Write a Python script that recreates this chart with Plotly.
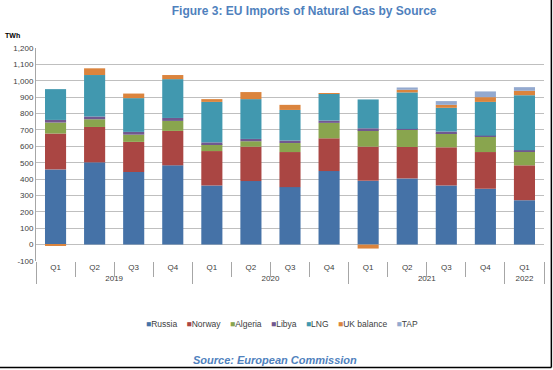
import plotly.graph_objects as go

years = ["2019"] * 4 + ["2020"] * 4 + ["2021"] * 4 + ["2022"]
quarters = ["Q1", "Q2", "Q3", "Q4", "Q1", "Q2", "Q3", "Q4", "Q1", "Q2", "Q3", "Q4", "Q1"]

russia = [459, 502, 443, 484, 361, 388, 351, 449, 390, 404, 361, 341, 271]
norway = [219, 216, 184, 210, 210, 210, 214, 200, 208, 192, 233, 224, 213]
algeria = [67, 47, 44, 61, 41, 33, 55, 94, 100, 104, 86, 94, 87]
libya = [16, 17, 17, 18, 12, 14, 15, 14, 12, 6, 10, 6, 5]
lng = [188, 253, 206, 237, 247, 243, 187, 163, 176, 223, 145, 206, 336]
uk_balance = [-5, 41, 28, 25, 17, 43, 31, 3, -24, 16, 18, 29, 27]
tap = [0, 0, 0, 0, 0, 0, 0, 0, 0, 14, 23, 35, 22]

series_names = ["Russia", "Norway", "Algeria", "Libya", "LNG", "UK balance", "TAP"]
series_values = [russia, norway, algeria, libya, lng, uk_balance, tap]
series_colors = ["#4572A7", "#AA4643", "#89A54E", "#71588F", "#4198AF", "#DB843D", "#93A9CF"]

tick_vals = list(range(-100, 1300, 100))
tick_text = [f"{v:,}" for v in tick_vals]

fig = go.Figure()
for name, vals, col in zip(series_names, series_values, series_colors):
    fig.add_trace(go.Bar(
        x=[years, quarters], y=vals, name=name, showlegend=False,
        marker=dict(color=col, line=dict(width=0)),
    ))

font_fam = "Liberation Sans, Arial, sans-serif"
fig.update_layout(
    barmode="relative",
    bargap=0.46,
    width=553, height=370,
    margin=dict(l=36, r=9, t=48, b=109),
    paper_bgcolor="white", plot_bgcolor="white",
    font=dict(family=font_fam, size=8, color="#404040"),
    showlegend=False,
    title=dict(text="<b>Figure 3: EU Imports of Natural Gas by Source</b>",
               x=0.55, xanchor="center", y=0.972, yanchor="middle",
               font=dict(family=font_fam, size=12, color="#4F81BD"), automargin=False),
)
fig.update_yaxes(
    range=[-100, 1200], tickvals=tick_vals, ticktext=tick_text,
    showgrid=True, gridcolor="#BFBFBF", gridwidth=1,
    zeroline=True, zerolinecolor="#BFBFBF", zerolinewidth=1,
    showline=True, linecolor="#A6A6A6", linewidth=1,
    ticks="", tickfont=dict(size=8, color="#404040"), automargin=False,
)
fig.update_xaxes(
    type="multicategory",
    showline=False,
    ticks="outside", tickson="boundaries", ticklen=15, tickcolor="#A6A6A6",
    showdividers=True, dividercolor="#A6A6A6", dividerwidth=1,
    tickfont=dict(size=8, color="#404040"),
    showgrid=False, automargin=False,
)

# legend drawn as coloured squares + names
legend_html = "&nbsp;&nbsp;&nbsp;&nbsp;".join(
    f"<span style='color:{c}'>■</span>{n}" for n, c in zip(series_names, series_colors)
)
fig.add_annotation(text=legend_html, xref="paper", yref="paper", x=0.485, y=-0.297,
                   xanchor="center", yanchor="middle", showarrow=False,
                   font=dict(size=8.5, color="#404040"))

fig.add_annotation(text="<b>TWh</b>", xref="paper", yref="paper", x=-0.065, y=1.035,
                   xanchor="left", yanchor="bottom", showarrow=False,
                   font=dict(size=7, color="#000000"))
fig.add_annotation(text="<b><i>Source: European Commission</i></b>", xref="paper", yref="paper",
                   x=0.47, y=-0.465, xanchor="center", yanchor="middle", showarrow=False,
                   font=dict(family=font_fam, size=11, color="#4F81BD"))
# border on right and bottom edges of the picture
fig.add_shape(type="line", xref="paper", yref="paper", x0=1.0145, x1=1.0145, y0=1.23, y1=-0.5,
              line=dict(color="#000000", width=1.5))
fig.add_shape(type="line", xref="paper", yref="paper", x0=-0.08, x1=1.0145, y0=-0.5, y1=-0.5,
              line=dict(color="#000000", width=1.5))
fig.write_html("out.html", config={"displayModeBar": False},
               post_script="document.body.style.margin='0';document.body.style.overflow='hidden';")
